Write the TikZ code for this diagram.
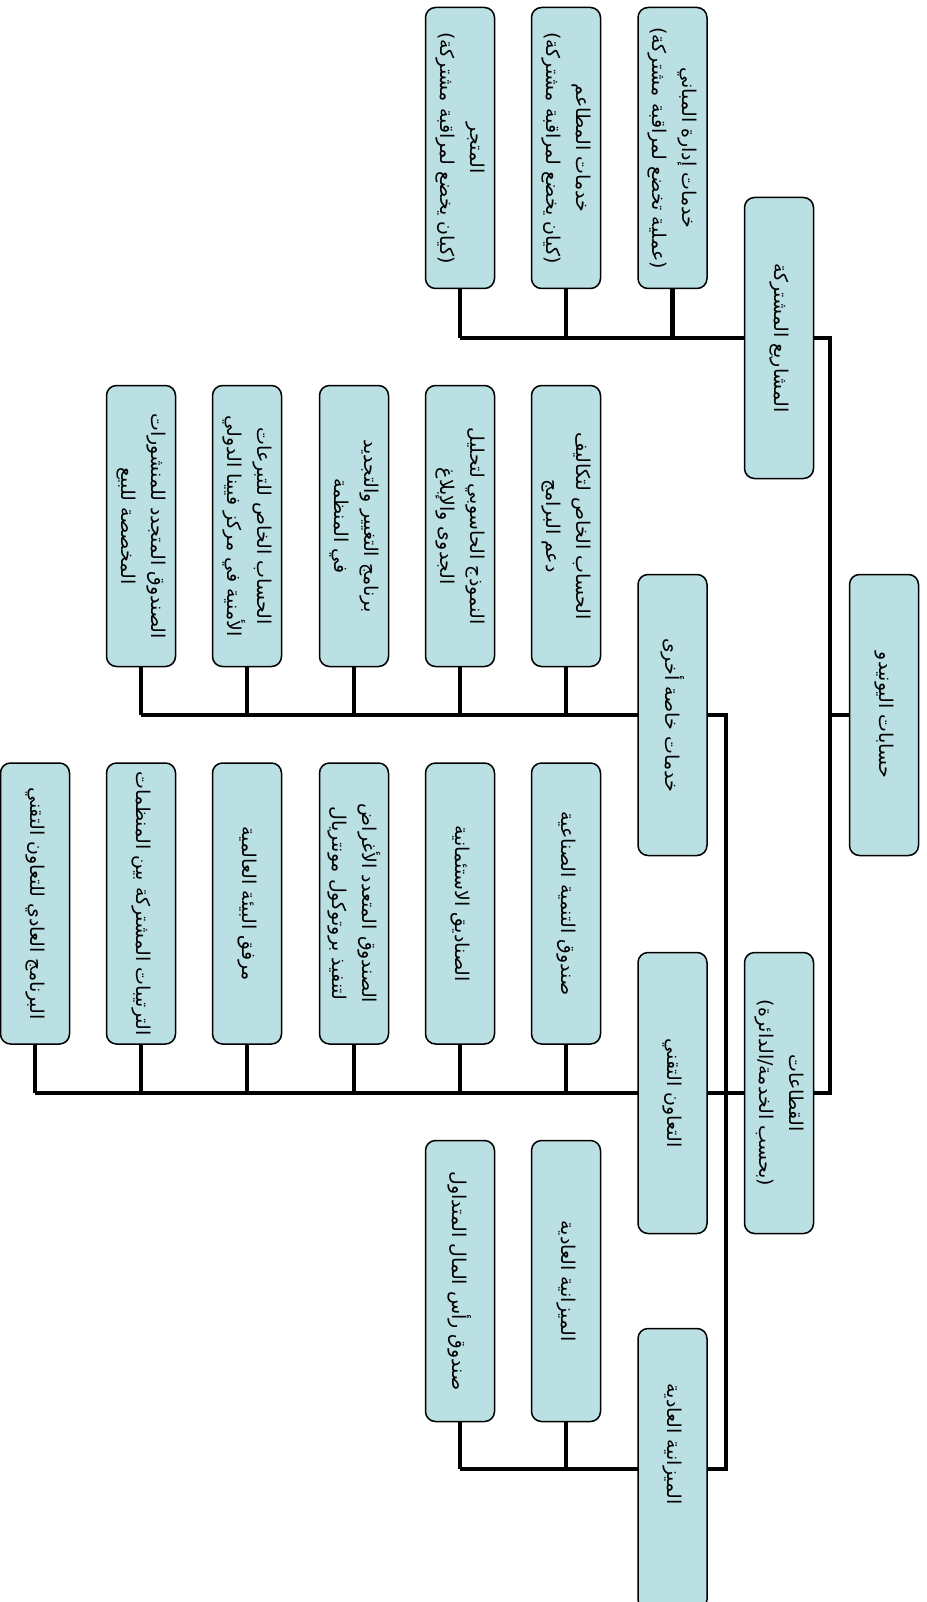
\documentclass[tikz,border=0pt]{standalone}
\usepackage{fontspec}
\newfontfamily\arabicfont[Script=Arabic]{DejaVu Sans}
\TeXXeTstate=1
\usetikzlibrary{backgrounds}
\definecolor{boxfill}{RGB}{187,224,228}
\newcommand{\arl}[1]{\beginR #1\endR}
\begin{document}
\begin{tikzpicture}[x=1pt,y=1pt,
  box/.style={draw=black, line width=1.5pt, fill=boxfill, rounded corners=10pt,
    rotate=-90, minimum width=281pt, minimum height=69pt, align=center,
    inner sep=2pt, font=\arabicfont\fontsize{19}{30}\selectfont},
  conn/.style={line width=4.5pt, line join=miter, draw=black}]
\useasboundingbox (0,0) rectangle (926,-1602);
\clip (0,0) rectangle (926,-1602);
% level 1 and 2
\node[box] (root) at (884,-715) {\arl{حسابات اليونيدو}};
\node[box] (jv) at (779,-338) {\arl{المشاريع المشتركة}};
\node[box] (sec) at (779,-1093) {\arl{القطاعات}\\\arl{(بحسب الخدمة/الدائرة)}};
% level 3
\node[box] (sp) at (672.5,-715) {\arl{خدمات خاصة أخرى}};
\node[box] (tc) at (672.5,-1093) {\arl{التعاون التقني}};
\node[box] (rb) at (672.5,-1469) {\arl{الميزانية العادية}\hspace*{50pt}};
% joint ventures children
\node[box] (jv1) at (672.5,-148) {\arl{خدمات إدارة المباني}\\\arl{(عملية تخضع لمراقبة مشتركة)}};
\node[box] (jv2) at (566,-148) {\arl{خدمات المطاعم}\\\arl{(كيان يخضع لمراقبة مشتركة)}};
\node[box] (jv3) at (460,-148) {\arl{المتجر}\\\arl{(كيان يخضع لمراقبة مشتركة)}};
% other special services children
\node[box] (sp1) at (566,-526) {\arl{الحساب الخاص لتكاليف}\\\arl{دعم البرامج}};
\node[box] (sp2) at (460,-526) {\arl{النموذج الحاسوبي لتحليل}\\\arl{الجدوى والإبلاغ}};
\node[box] (sp3) at (354,-526) {\arl{برنامج التغيير والتجديد}\\\arl{في المنظمة}};
\node[box] (sp4) at (247,-526) {\arl{الحساب الخاص للتبرعات}\\\arl{الأمنية في مركز فيينا الدولي}};
\node[box] (sp5) at (141,-526) {\arl{الصندوق المتجدد للمنشورات}\\\arl{المخصصة للبيع}};
% technical cooperation children
\node[box] (tc1) at (566,-903.5) {\arl{صندوق التنمية الصناعية}};
\node[box] (tc2) at (460,-903.5) {\arl{الصناديق الاستئمانية}};
\node[box] (tc3) at (354,-903.5) {\arl{الصندوق المتعدد الأغراض}\\\arl{لتنفيذ بروتوكول مونتريال}};
\node[box] (tc4) at (247,-903.5) {\arl{مرفق البيئة العالمية}};
\node[box] (tc5) at (141,-903.5) {\arl{الترتيبات المشتركة بين المنظمات}};
\node[box] (tc6) at (35,-903.5) {\arl{البرنامج العادي للتعاون التقني}};
% regular budget children
\node[box] (rb1) at (566,-1281) {\arl{الميزانية العادية}};
\node[box] (rb2) at (460,-1281) {\arl{صندوق رأس المال المتداول}};
% trunks
\coordinate (trunkx) at (830,0);
\coordinate (trunkxx) at (726,0);
\begin{scope}[on background layer]
\draw[conn] (root.center) -- (trunkx |- root.center);
\draw[conn] (jv3.center |- jv.center) -- (trunkx |- jv.center) -- (trunkx |- sec.center) -- (tc6.center |- sec.center);
\draw[conn] (sp5.center |- sp.center) -- (trunkxx |- sp.center) -- (trunkxx |- rb.center) -- (rb2.center |- rb.center);
\foreach \c in {jv1,jv2,jv3} \draw[conn] (\c.center) -- (\c.center |- jv.center);
\foreach \c in {sp1,sp2,sp3,sp4,sp5} \draw[conn] (\c.center) -- (\c.center |- sp.center);
\foreach \c in {tc1,tc2,tc3,tc4,tc5,tc6} \draw[conn] (\c.center) -- (\c.center |- tc.center);
\foreach \c in {rb1,rb2} \draw[conn] (\c.center) -- (\c.center |- rb.center);
\end{scope}
\end{tikzpicture}
\end{document}
